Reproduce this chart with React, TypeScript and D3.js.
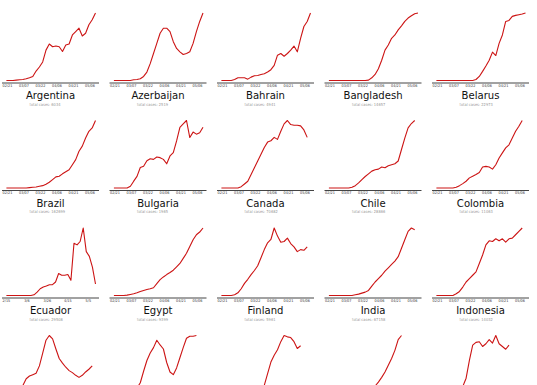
import * as d3 from "d3"

const W = 537
const H = 385

// grid: 5 columns, row pitch and column pitch in px
const COLS = 5
const PITCH_X = 107.5
const PITCH_Y = 107.5
const AXIS_Y0 = 83

const countries = [
  "Argentina", "Azerbaijan", "Bahrain", "Bangladesh", "Belarus",
  "Brazil", "Bulgaria", "Canada", "Chile", "Colombia",
  "Ecuador", "Egypt", "Finland", "India", "Indonesia",
  "", "", "", "", "",
]
const totals = [
  6034, 2519, 4941, 14657, 22973,
  162699, 1965, 70682, 28866, 11063,
  29508, 9399, 5961, 67158, 14032,
  null, null, null, null, null,
]

// daily new cases, relative to each country's peak, one point every 3 days
const argentina = [0, 0, 0, 0.005, 0.01, 0.015, 0.025, 0.04, 0.06, 0.14, 0.2, 0.275, 0.45, 0.54, 0.5, 0.51, 0.5, 0.43, 0.525, 0.54, 0.675, 0.725, 0.775, 0.66, 0.7, 0.825, 0.9, 1]
const azerbaijan = [0, 0, 0, 0, 0, 0, 0.01, 0.015, 0.025, 0.06, 0.125, 0.25, 0.4, 0.55, 0.7, 0.775, 0.775, 0.725, 0.575, 0.475, 0.425, 0.385, 0.4, 0.425, 0.55, 0.725, 0.875, 1]
const bahrain = [0, 0, 0, 0, 0.015, 0.04, 0.04, 0.04, 0.02, 0.05, 0.07, 0.075, 0.09, 0.1, 0.125, 0.16, 0.225, 0.375, 0.4, 0.36, 0.4, 0.45, 0.51, 0.425, 0.625, 0.8, 0.875, 1]
const bangladesh = [0, 0, 0, 0, 0, 0, 0, 0, 0, 0, 0, 0, 0.005, 0.04, 0.09, 0.175, 0.3, 0.45, 0.525, 0.625, 0.675, 0.75, 0.81, 0.875, 0.925, 0.96, 0.99, 1]
const belarus = [0, 0, 0, 0, 0, 0, 0, 0, 0, 0, 0, 0, 0.015, 0.06, 0.135, 0.215, 0.3, 0.42, 0.37, 0.55, 0.675, 0.875, 0.89, 0.95, 0.965, 0.975, 0.985, 1]
const brazil = [0, 0, 0, 0, 0, 0, 0, 0.005, 0.01, 0.015, 0.025, 0.035, 0.055, 0.085, 0.125, 0.165, 0.175, 0.21, 0.24, 0.27, 0.345, 0.42, 0.545, 0.62, 0.74, 0.84, 0.89, 1]
const bulgaria = [0, 0, 0, 0, 0, 0.025, 0.1, 0.17, 0.3, 0.32, 0.4, 0.43, 0.42, 0.455, 0.445, 0.42, 0.355, 0.47, 0.52, 0.69, 0.89, 0.94, 0.99, 0.74, 0.82, 0.79, 0.81, 0.89]
const canada = [0, 0, 0, 0, 0, 0, 0.02, 0.06, 0.1, 0.2, 0.3, 0.4, 0.5, 0.6, 0.68, 0.7, 0.75, 0.72, 0.84, 0.95, 1, 0.94, 0.93, 0.93, 0.92, 0.86, 0.75]
const chile = [0, 0, 0, 0, 0, 0, 0, 0.01, 0.035, 0.075, 0.125, 0.17, 0.21, 0.25, 0.27, 0.28, 0.31, 0.3, 0.33, 0.345, 0.36, 0.4, 0.57, 0.74, 0.89, 0.955, 1]
const colombia = [0, 0, 0, 0, 0, 0, 0.01, 0.035, 0.065, 0.1, 0.15, 0.175, 0.2, 0.23, 0.31, 0.32, 0.31, 0.28, 0.345, 0.445, 0.52, 0.595, 0.64, 0.74, 0.84, 0.915, 1]
const ecuador = [0, 0, 0, 0, 0, 0, 0, 0, 0, 0.01, 0.05, 0.1, 0.125, 0.14, 0.16, 0.16, 0.2, 0.325, 0.3, 0.3, 0.31, 0.225, 0.775, 0.75, 0.8, 1, 0.65, 0.58, 0.42, 0.17]
const egypt = [0, 0, 0, 0, 0.005, 0.015, 0.025, 0.04, 0.06, 0.075, 0.09, 0.1, 0.115, 0.175, 0.235, 0.275, 0.31, 0.34, 0.375, 0.425, 0.475, 0.55, 0.625, 0.725, 0.825, 0.9, 0.94, 1]
const finland = [0, 0, 0, 0, 0.01, 0.04, 0.1, 0.18, 0.24, 0.31, 0.37, 0.44, 0.56, 0.68, 0.78, 0.83, 1, 0.88, 0.79, 0.8, 0.85, 0.77, 0.72, 0.65, 0.68, 0.67, 0.72]
const india = [0, 0, 0, 0, 0, 0, 0, 0, 0.01, 0.02, 0.035, 0.05, 0.075, 0.14, 0.2, 0.25, 0.3, 0.36, 0.41, 0.46, 0.51, 0.575, 0.7, 0.825, 0.95, 1, 0.975]
const indonesia = [0, 0, 0, 0, 0, 0, 0.025, 0.06, 0.125, 0.2, 0.25, 0.3, 0.35, 0.475, 0.6, 0.75, 0.81, 0.8, 0.84, 0.81, 0.84, 0.79, 0.84, 0.85, 0.9, 0.95, 1]
// fourth row is cut off at the bottom of the picture: only the tops of the lines show
const row4a = [0.02, 0.05, 0.1, 0.15, 0.2, 0.26, 0.36, 0.4, 0.42, 0.44, 0.55, 0.74, 0.93, 1, 0.95, 0.8, 0.66, 0.59, 0.53, 0.48, 0.45, 0.41, 0.38, 0.41, 0.46, 0.5, 0.55]
const row4b = [0, 0, 0, 0.02, 0.05, 0.1, 0.15, 0.22, 0.3, 0.47, 0.63, 0.74, 0.82, 0.93, 0.86, 0.8, 0.6, 0.46, 0.42, 0.52, 0.67, 0.82, 0.96, 0.99, 0.99, 1]
const row4c = [0, 0, 0, 0, 0, 0.01, 0.02, 0.03, 0.04, 0.05, 0.1, 0.15, 0.2, 0.26, 0.43, 0.6, 0.7, 0.78, 0.9, 0.99, 0.97, 0.96, 0.9, 0.8, 0.84]
const row4d = [0, 0, 0, 0, 0, 0, 0, 0, 0.01, 0.03, 0.06, 0.1, 0.15, 0.2, 0.25, 0.31, 0.38, 0.46, 0.56, 0.66, 0.78, 0.94, 1]
const row4e = [0, 0, 0, 0.02, 0.05, 0.08, 0.12, 0.18, 0.24, 0.36, 0.62, 0.84, 0.88, 0.89, 0.82, 0.86, 0.92, 0.87, 0.98, 0.86, 0.82, 0.78, 0.84]

const series = [
  argentina, azerbaijan, bahrain, bangladesh, belarus,
  brazil, bulgaria, canada, chile, colombia,
  ecuador, egypt, finland, india, indonesia,
  row4a, row4b, row4c, row4d, row4e,
]

// date axes
const defaultStart = new Date(2020, 1, 20)
const defaultEnd = new Date(2020, 4, 11)
const defaultTicks = ["2020-02-21", "2020-03-07", "2020-03-22", "2020-04-06", "2020-04-21", "2020-05-06"]
const ecuadorStart = new Date(2020, 1, 15)
const ecuadorEnd = new Date(2020, 4, 12)
const ecuadorTicks = ["2020-02-15", "2020-03-06", "2020-03-26", "2020-04-15", "2020-05-05"]

const parse = d3.timeParse("%Y-%m-%d")

function Panel({ idx }: { idx: number }) {
  const col = idx % COLS
  const row = Math.floor(idx / COLS)
  const ox = col * PITCH_X
  const axisY = AXIS_Y0 + row * PITCH_Y
  const values = series[idx]
  const isEcuador = countries[idx] === "Ecuador"
  const start = isEcuador ? ecuadorStart : defaultStart
  const end = isEcuador ? ecuadorEnd : defaultEnd
  const tickDates = (isEcuador ? ecuadorTicks : defaultTicks).map((s) => parse(s)!)
  const fmt = d3.timeFormat(isEcuador ? "%-m/%-d" : "%m/%d")

  const x = d3.scaleTime().domain([start, end]).range([6.4, 95.5])
  const y = d3.scaleLinear().domain([0, d3.max(values)!]).range([axisY - 2.5, axisY - 70])

  const line = d3
    .line<number>()
    .x((_, i) => x(d3.timeDay.offset(start, i * 3)))
    .y((d) => y(d))

  const name = countries[idx]
  const total = totals[idx]
  // axis and labels of the cut-off row fall below the picture
  const showAxis = axisY < H

  return (
    <g transform={`translate(${ox},0)`}>
      <path d={line(values) ?? ""} fill="none" stroke="#cc1414" strokeWidth={1.1} strokeLinejoin="round" />
      {showAxis && (
        <>
          <line x1={2} x2={99} y1={axisY} y2={axisY} stroke="#444" strokeWidth={1} />
          {tickDates.map((t) => (
            <text
              key={t.getTime()}
              transform={`translate(${x(t)},${axisY + 3.6}) scale(0.9,1)`}
              fontSize={3.8}
              textAnchor="middle"
              fill="#333"
            >
              {fmt(t)}
            </text>
          ))}
          {name && (
            <text transform={`translate(50.5,${axisY + 16}) scale(0.9,1)`} fontSize={11.2} textAnchor="middle" fill="#111">
              {name}
            </text>
          )}
          {total != null && (
            <text transform={`translate(29.5,${axisY + 22.5}) scale(0.9,1)`} fontSize={4} fill="#999">
              {`total cases: ${total}`}
            </text>
          )}
        </>
      )}
    </g>
  )
}

export default function App() {
  return (
    <div style={{ position: "absolute", left: 0, top: 0 }}>
      <svg width={W} height={H} viewBox={`0 0 ${W} ${H}`} style={{ display: "block", background: "#fff", fontFamily: "DejaVu Sans" }}>
        {series.map((_, i) => (
          <Panel key={i} idx={i} />
        ))}
      </svg>
    </div>
  )
}
